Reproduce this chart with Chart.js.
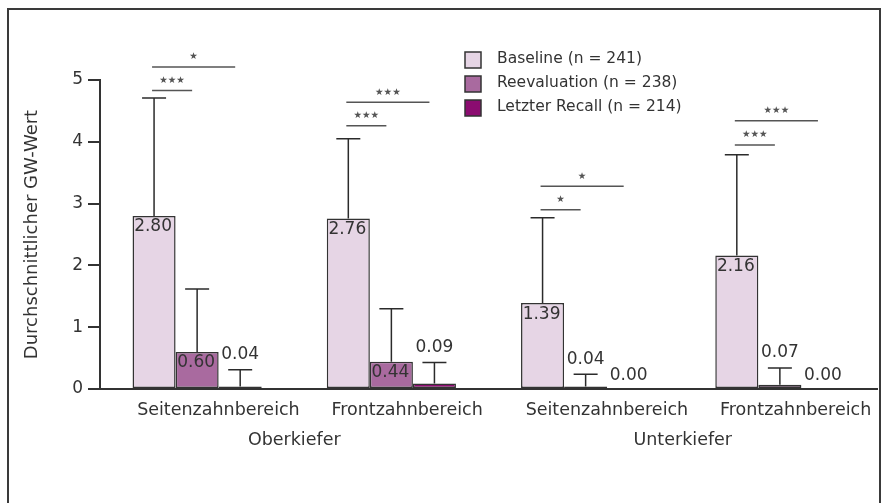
<!DOCTYPE html>
<html>
<head>
<meta charset="utf-8">
<script src="https://cdn.jsdelivr.net/npm/chart.js@4.4.1/dist/chart.umd.min.js"></script>
<style>
  html, body { margin: 0; padding: 0; background: #fff; }
  #wrap { position: relative; width: 886px; height: 503px; overflow: hidden; }
  #frame { position: absolute; left: 7px; top: 8px; width: 874px; height: 530px;
           border: 2px solid #3a3a3a; box-sizing: border-box; pointer-events: none; }
  canvas { position: absolute; left: 0; top: 0; }
</style>
</head>
<body>
<div id="wrap">
  <canvas id="chart" width="886" height="503"></canvas>
  <div id="frame"></div>
</div>
<script>
// Regions of the jaw and the two jaws they belong to
const regions = ['Seitenzahnbereich', 'Frontzahnbereich', 'Seitenzahnbereich', 'Frontzahnbereich'];
const jaws = ['Oberkiefer', 'Unterkiefer'];

// Mean GW values and standard deviations per visit
const baseline   = [2.80, 2.76, 1.39, 2.16];
const baselineSD = [1.91, 1.29, 1.38, 1.63];
const reeval     = [0.60, 0.44, 0.04, 0.07];
const reevalSD   = [1.02, 0.86, 0.20, 0.27];
const recall     = [0.04, 0.09, 0.00, 0.00];
const recallSD   = [0.27, 0.34, 0.00, 0.00];

// Significance of baseline vs. reevaluation / vs. last recall, and the GW level of each bracket
const sigReeval   = ['***', '***', '*', '***'];
const sigReevalAt = [4.83, 4.26, 2.90, 3.95];
const sigRecall   = ['*', '***', '*', '***'];
const sigRecallAt = [5.21, 4.64, 3.28, 4.34];

const yTicks = [0, 1, 2, 3, 4, 5];

const INK = '#333333';
const FONT = '"DejaVu Sans", sans-serif';
Chart.defaults.font.family = FONT;
Chart.defaults.color = INK;

// Error bars, value labels, significance brackets and the legend
const annotations = {
  id: 'annotations',
  afterDatasetsDraw(chart) {
    const ctx = chart.ctx;
    const y = chart.scales.y;
    const zero = y.getPixelForValue(0);
    ctx.save();

    chart.data.datasets.forEach((ds, di) => {
      const meta = chart.getDatasetMeta(di);
      meta.data.forEach((bar, i) => {
        const v = ds.data[i];
        const sd = ds.sd[i];
        const top = y.getPixelForValue(v);
        let capY = top;
        if (sd > 0) {
          capY = y.getPixelForValue(v + sd);
          ctx.strokeStyle = '#2b2b2b';
          ctx.lineWidth = 1.5;
          ctx.beginPath();
          ctx.moveTo(bar.x, top);
          ctx.lineTo(bar.x, capY);
          ctx.moveTo(bar.x - 12, capY);
          ctx.lineTo(bar.x + 12, capY);
          ctx.stroke();
        }
        ctx.font = '17px ' + FONT;
        ctx.fillStyle = INK;
        ctx.textAlign = 'center';
        ctx.textBaseline = 'middle';
        const txt = v.toFixed(2);
        if (zero - top > 20) {
          ctx.fillText(txt, bar.x - 1, top + 11);
        } else {
          ctx.fillText(txt, bar.x, capY - (sd > 0 ? 15 : 13));
        }
      });
    });

    // brackets from the baseline bar to the compared bar
    const m0 = chart.getDatasetMeta(0), m1 = chart.getDatasetMeta(1), m2 = chart.getDatasetMeta(2);
    const bracket = (x0, x1, level, label) => {
      const yy = y.getPixelForValue(level);
      ctx.strokeStyle = '#555555';
      ctx.lineWidth = 1.5;
      ctx.beginPath();
      ctx.moveTo(x0, yy);
      ctx.lineTo(x1, yy);
      ctx.stroke();
      ctx.font = '9.5px ' + FONT;
      ctx.fillStyle = '#555555';
      ctx.textAlign = 'center';
      ctx.textBaseline = 'middle';
      ctx.fillText(label.replace(/\*/g, '\u2605'), (x0 + x1) / 2, yy - 10);
    };
    regions.forEach((r, i) => {
      const x0 = m0.data[i].x - 2;
      bracket(x0, m1.data[i].x - 5, sigReevalAt[i], sigReeval[i]);
      bracket(x0, m2.data[i].x - 5, sigRecallAt[i], sigRecall[i]);
    });

    // legend
    const area = chart.chartArea;
    const lx = area.left + 365;
    ctx.font = '15.5px ' + FONT;
    ctx.textAlign = 'left';
    ctx.textBaseline = 'middle';
    chart.data.datasets.forEach((ds, k) => {
      const cy = area.top - 20 + k * 24;
      ctx.fillStyle = ds.backgroundColor;
      ctx.fillRect(lx, cy - 8, 16, 16);
      ctx.strokeStyle = '#333333';
      ctx.lineWidth = 1.5;
      ctx.strokeRect(lx, cy - 8, 16, 16);
      ctx.fillStyle = INK;
      ctx.fillText(ds.label, lx + 32, cy - 1);
    });
    ctx.restore();
  }
};

new Chart(document.getElementById('chart'), {
  type: 'bar',
  data: {
    labels: regions,
    datasets: [
      { label: 'Baseline (n = 241)', data: baseline, sd: baselineSD,
        backgroundColor: '#e6d5e5', borderColor: INK, borderWidth: 1.5 },
      { label: 'Reevaluation (n = 238)', data: reeval, sd: reevalSD,
        backgroundColor: '#a96a9f', borderColor: INK, borderWidth: 1.5 },
      { label: 'Letzter Recall (n = 214)', data: recall, sd: recallSD,
        backgroundColor: '#8b0c70', borderColor: INK, borderWidth: 1.5 }
    ]
  },
  options: {
    responsive: false,
    animation: false,
    devicePixelRatio: 1,
    layout: { padding: { left: 0, right: 9, top: 80, bottom: 44 } },
    datasets: { bar: { categoryPercentage: 0.665, barPercentage: 1.0, borderSkipped: false } },
    plugins: { legend: { display: false }, tooltip: { enabled: false } },
    scales: {
      x: {
        position: 'bottom',
        grid: { display: false },
        border: { display: true, color: INK, width: 2 },
        ticks: { align: 'start', labelOffset: -60, autoSkip: false, maxRotation: 0,
                 padding: 3, font: { size: 17.5 }, color: INK },
        afterFit(s) { s.height = 30; s.paddingLeft = 0; s.paddingRight = 0; }
      },
      x2: {
        type: 'category',
        labels: jaws,
        position: 'bottom',
        offset: true,
        grid: { display: false },
        border: { display: false },
        ticks: { autoSkip: false, maxRotation: 0, padding: 3, font: { size: 17.5 }, color: INK },
        afterFit(s) { s.height = 40; s.paddingLeft = 0; s.paddingRight = 0; }
      },
      y: {
        min: 0,
        max: 5,
        afterBuildTicks(s) { s.ticks = yTicks.map(v => ({ value: v })); },
        ticks: { padding: 5, font: { size: 17 }, color: INK },
        grid: { display: true, drawOnChartArea: false, drawTicks: true, tickLength: 12,
                color: INK, lineWidth: 2 },
        border: { display: true, color: INK, width: 2 },
        title: { display: true, text: 'Durchschnittlicher GW-Wert', color: INK,
                 font: { size: 18 }, padding: { top: 22, bottom: 0 } },
        afterFit(s) { s.width = 100; }
      }
    }
  },
  plugins: [annotations]
});
</script>
</body>
</html>
